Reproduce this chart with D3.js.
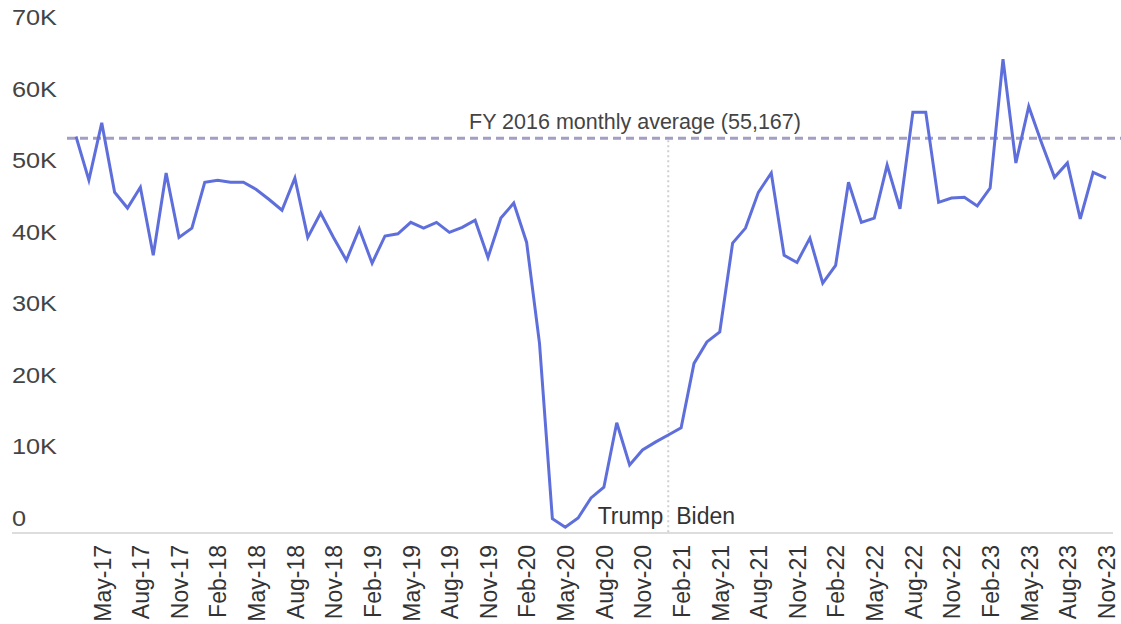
<!DOCTYPE html>
<html>
<head>
<meta charset="utf-8">
<script src="https://cdn.jsdelivr.net/npm/d3@7"></script>
<style>
  html, body { margin: 0; padding: 0; background: #ffffff; }
  svg { display: block; }
  text { font-family: "Liberation Sans", Arial, sans-serif; }
</style>
</head>
<body>
<svg id="chart" width="1121" height="624"></svg>
<script>
const months = [
  "Mar-17","Apr-17","May-17","Jun-17","Jul-17","Aug-17","Sep-17","Oct-17","Nov-17","Dec-17",
  "Jan-18","Feb-18","Mar-18","Apr-18","May-18","Jun-18","Jul-18","Aug-18","Sep-18","Oct-18","Nov-18","Dec-18",
  "Jan-19","Feb-19","Mar-19","Apr-19","May-19","Jun-19","Jul-19","Aug-19","Sep-19","Oct-19","Nov-19","Dec-19",
  "Jan-20","Feb-20","Mar-20","Apr-20","May-20","Jun-20","Jul-20","Aug-20","Sep-20","Oct-20","Nov-20","Dec-20",
  "Jan-21","Feb-21","Mar-21","Apr-21","May-21","Jun-21","Jul-21","Aug-21","Sep-21","Oct-21","Nov-21","Dec-21",
  "Jan-22","Feb-22","Mar-22","Apr-22","May-22","Jun-22","Jul-22","Aug-22","Sep-22","Oct-22","Nov-22","Dec-22",
  "Jan-23","Feb-23","Mar-23","Apr-23","May-23","Jun-23","Jul-23","Aug-23","Sep-23","Oct-23","Nov-23"
];
const values = [
  55400, 49300, 57300, 47600, 45400, 48300, 38800, 50300, 41300, 42600,
  49000, 49300, 49000, 49000, 48000, 46600, 45100, 49600, 41300, 44700, 41300, 38100,
  42500, 37700, 41500, 41800, 43400, 42600, 43400, 42000, 42700, 43700, 38500, 44000,
  46100, 40600, 26500, 2000, 800, 2100, 4900, 6400, 15400, 9500, 11600, 12700,
  13700, 14700, 23700, 26700, 28100, 40500, 42600, 47600, 50300, 38800, 37800, 41200,
  34900, 37400, 49000, 43400, 44000, 51400, 45300, 58800, 58800, 46200, 46800, 46900,
  45700, 48200, 66200, 51700, 59600, 54500, 49700, 51700, 43900, 50400, 49600
];
const xTickLabels = [
  "May-17","Aug-17","Nov-17","Feb-18","May-18","Aug-18","Nov-18","Feb-19","May-19","Aug-19",
  "Nov-19","Feb-20","May-20","Aug-20","Nov-20","Feb-21","May-21","Aug-21","Nov-21","Feb-22",
  "May-22","Aug-22","Nov-22","Feb-23","May-23","Aug-23","Nov-23"
];
const yTickValues = [0, 10000, 20000, 30000, 40000, 50000, 60000, 70000];
const averageValue = 55167;
const averageLabel = "FY 2016 monthly average (55,167)";
const dividerMonth = "Jan-21";
const leftLabel = "Trump";
const rightLabel = "Biden";

const svg = d3.select("#chart");
const x = d3.scalePoint().domain(months).range([76, 1106]);
const y = d3.scaleLinear().domain([0, 70000]).range([533, 32]);

const fmt = v => v === 0 ? "0" : (v / 1000) + "K";

// y labels (placed above their value position, no gridlines)
svg.append("g").selectAll("text")
  .data(yTickValues)
  .join("text")
  .attr("transform", d => `translate(12,${y(d) - 7}) scale(1.15,1)`)
  .attr("font-size", 22)
  .attr("fill", "#444")
  .text(fmt);

// baseline axis
svg.append("line")
  .attr("x1", 12).attr("x2", 1113)
  .attr("y1", y(0)).attr("y2", y(0))
  .attr("stroke", "#d2d2d2").attr("stroke-width", 1.5);

// x axis labels
const xAxis = d3.axisBottom(x).tickValues(xTickLabels).tickSize(0).tickPadding(0);
const gx = svg.append("g").attr("transform", `translate(0,${y(0)})`).call(xAxis);
gx.select(".domain").remove();
gx.selectAll("text")
  .attr("font-family", "'Liberation Sans', Arial, sans-serif")
  .attr("font-size", 23)
  .attr("fill", "#333")
  .attr("text-anchor", "end")
  .attr("transform", "rotate(-90)")
  .attr("x", -12)
  .attr("y", 0)
  .attr("dy", "0.36em");

// average dashed line
svg.append("line")
  .attr("x1", 67).attr("x2", 1121)
  .attr("y1", y(averageValue)).attr("y2", y(averageValue))
  .attr("stroke", "#a29ec4").attr("stroke-width", 3)
  .attr("stroke-dasharray", "8,5");

svg.append("text")
  .attr("x", 635).attr("y", y(averageValue) - 9)
  .attr("text-anchor", "middle")
  .attr("font-size", 21.5)
  .attr("fill", "#444")
  .text(averageLabel);

// divider
svg.append("line")
  .attr("x1", x(dividerMonth)).attr("x2", x(dividerMonth))
  .attr("y1", y(averageValue) + 2).attr("y2", y(0))
  .attr("stroke", "#cfcfcf").attr("stroke-width", 2)
  .attr("stroke-dasharray", "2,3");

svg.append("text")
  .attr("x", x(dividerMonth) - 5).attr("y", y(0) - 9)
  .attr("text-anchor", "end")
  .attr("font-size", 23)
  .attr("fill", "#333")
  .text(leftLabel);
svg.append("text")
  .attr("x", x(dividerMonth) + 8).attr("y", y(0) - 9)
  .attr("text-anchor", "start")
  .attr("font-size", 23)
  .attr("fill", "#333")
  .text(rightLabel);

// the data line
const line = d3.line()
  .x((d, i) => x(months[i]))
  .y(d => y(d));
svg.append("path")
  .datum(values)
  .attr("d", line)
  .attr("fill", "none")
  .attr("stroke", "#5e6fdc")
  .attr("stroke-width", 3)
  .attr("stroke-linejoin", "miter");
</script>
</body>
</html>
